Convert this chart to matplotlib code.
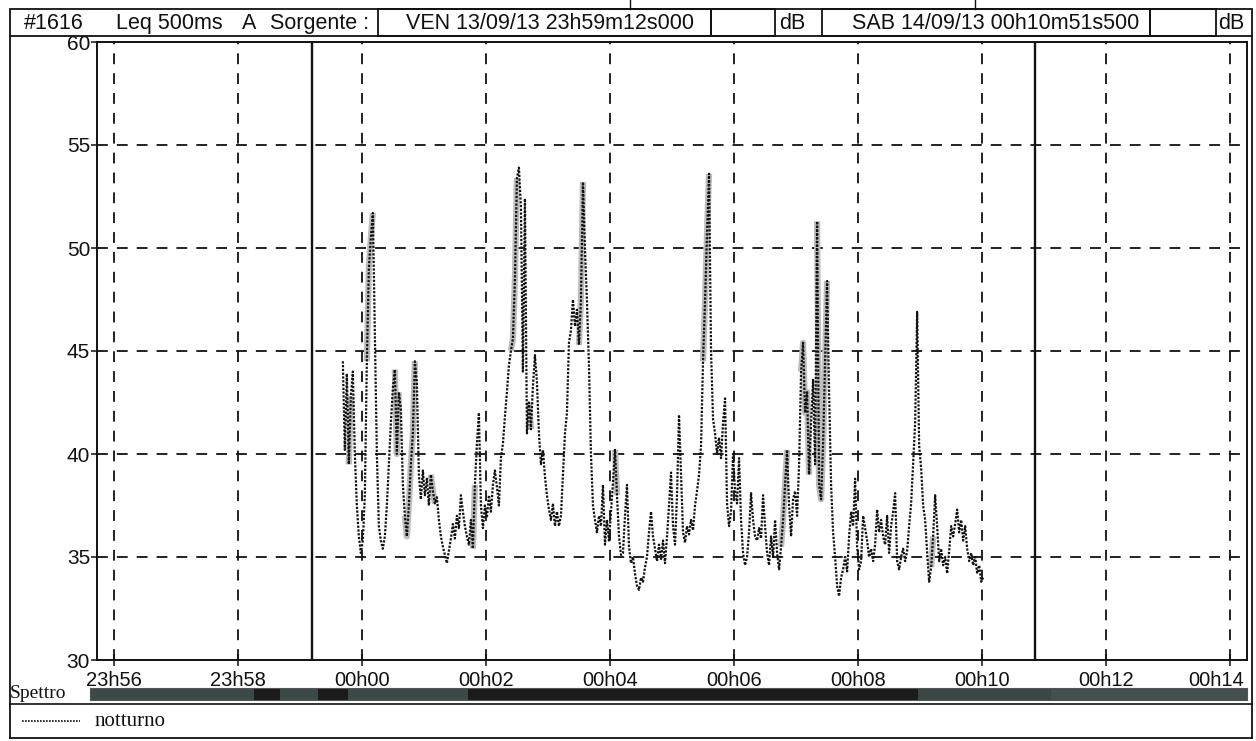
import numpy as np
import matplotlib
matplotlib.use("Agg")
import matplotlib.pyplot as plt
from matplotlib.patches import Rectangle
from matplotlib.lines import Line2D
from matplotlib.transforms import ScaledTranslation

W, H = 1256, 741

# ---------------- data ----------------
header_parts = ["#1616", "Leq 500ms", "A", "Sorgente :"]
start_label = "VEN 13/09/13 23h59m12s000"
end_label = "SAB 14/09/13 00h10m51s500"
unit = "dB"
marker_start_min = -48.0 / 60.0          # 23h59m12s
marker_end_min = 10 + 51.5 / 60.0        # 00h10m51s500
x_ticks_min = [-4, -2, 0, 2, 4, 6, 8, 10, 12, 14]
x_tick_labels = ["23h56", "23h58", "00h00", "00h02", "00h04",
                 "00h06", "00h08", "00h10", "00h12", "00h14"]
y_ticks = [30, 35, 40, 45, 50, 55, 60]
x_view_min = (-4.27, 14.27)

data_t_start_s = -18.4
data_t_end_s = 601.0
leq_db = [
    44.5, 40.2, 43.9, 39.5, 42.8, 44.0, 40.0, 37.5, 36.0, 35.2,
    35.8, 38.0, 44.5, 49.0, 50.5, 51.7, 46.0, 40.0, 36.5, 35.8,
    35.4, 36.0, 37.5, 39.5, 41.5, 43.2, 44.1, 40.0, 43.0, 42.2,
    38.5, 37.0, 36.0, 37.5, 39.5, 41.0, 44.5, 43.5, 39.0, 37.8,
    39.2, 38.0, 38.8, 37.5, 39.0, 38.2, 37.6, 37.9, 36.8, 36.0,
    35.5, 35.1, 34.7, 35.3, 35.9, 36.6, 35.9, 37.0, 36.4, 38.0,
    37.2, 36.5, 36.0, 35.6, 36.8, 35.4, 38.5, 40.5, 42.0, 37.5,
    36.4, 37.5, 36.9, 38.0, 37.2, 38.5, 39.2, 38.4, 37.5, 39.8,
    40.5, 41.8, 43.0, 44.3, 45.0, 45.6, 48.5, 53.4, 53.9, 52.0,
    44.0, 52.4, 41.0, 42.5, 41.2, 43.3, 44.8, 43.5, 41.0, 39.5,
    40.2, 38.9, 38.0, 37.3, 36.8, 37.6, 36.5, 37.2, 36.5, 37.0,
    39.0, 41.0, 42.0, 45.4, 46.0, 47.5, 46.2, 47.0, 45.3, 47.5,
    53.2, 50.0, 47.4, 44.3, 40.0, 37.5, 36.8, 36.2, 37.0, 36.5,
    38.5, 35.6, 36.8, 35.8, 37.2, 38.6, 40.2, 38.0, 36.0, 35.1,
    35.2, 37.0, 38.5, 35.5, 34.7, 35.0, 34.2, 33.6, 33.4, 34.0,
    33.8, 34.5, 35.0, 36.2, 37.2, 36.0, 35.4, 34.8, 35.6, 34.9,
    35.8, 34.7, 36.0, 37.5, 39.1, 36.5, 35.6, 38.0, 41.9, 39.0,
    36.2, 35.7, 36.5, 36.1, 36.8, 36.3, 37.5, 38.2, 39.0, 40.4,
    44.5, 47.4, 50.7, 53.6, 45.0, 41.7, 41.0, 40.0, 40.8, 39.8,
    41.5, 42.7, 37.6, 36.5, 37.2, 40.0, 38.2, 37.6, 39.8, 36.8,
    35.2, 34.6, 35.0, 36.2, 38.1, 36.8, 36.0, 35.8, 36.4, 35.9,
    38.0, 36.5, 35.2, 34.6, 36.0, 35.0, 36.8, 35.2, 34.4, 35.5,
    36.8, 38.5, 40.2, 37.5, 36.0, 37.8, 38.2, 37.0, 39.5, 44.0,
    45.4, 42.0, 43.0, 39.0, 41.5, 43.6, 39.5, 51.3, 38.5, 37.8,
    40.5, 44.5, 48.4, 43.0, 38.5, 36.2, 35.0, 33.6, 33.1, 34.0,
    34.4, 35.0, 34.3, 36.0, 37.2, 36.5, 38.8, 35.5, 34.4, 34.8,
    37.0, 36.4, 35.8, 35.0, 35.4, 34.8, 35.6, 37.3, 36.2, 36.8,
    36.0, 35.6, 37.0, 35.2, 36.5, 37.2, 38.1, 34.8, 34.4, 35.0,
    35.4, 34.8, 35.3, 36.5, 37.6, 39.5, 41.5, 46.9, 40.4, 39.3,
    37.5, 36.8, 35.2, 33.8, 34.5, 36.0, 38.0, 36.5, 34.8, 35.4,
    34.6, 35.0, 34.2, 35.3, 36.5, 36.0, 36.6, 37.3, 36.2, 36.8,
    35.8, 36.5, 35.4, 34.8, 35.2, 34.6, 35.0, 34.2, 34.6, 33.8,
    34.0,
]
# grey (highlighted) stretches of the trace, minutes
grey_spans_min = [(-0.21, -0.15), (0.08, 0.20), (0.53, 0.62), (0.69, 0.86),
                  (1.10, 1.20), (1.76, 1.83), (2.39, 2.50), (2.68, 2.73),
                  (3.48, 3.57), (4.06, 4.12), (5.06, 5.11), (5.47, 5.60),
                  (6.74, 6.88), (7.06, 7.22), (7.33, 7.52), (8.89, 8.95), (9.16, 9.24)]
# "Spettro" band: segment edges (minutes) and shades
spettro_edges_min = [-4.40, -1.74, -1.32, -0.71, -0.23, 1.71, 8.97, 11.11, 14.27]
spettro_colors = ["#3c4a47", "#1b1b1b", "#3c4a47", "#1b1b1b",
                  "#3c4a47", "#1b1b1b", "#3a4744", "#44504d"]
legend_label = "notturno"
band_label = "Spettro"

# ---------------- figure ----------------
SANS = ["Liberation Sans", "DejaVu Sans"]
SERIF = ["Liberation Serif", "DejaVu Serif"]
plt.rcParams["font.family"] = SANS
INK = "#111111"

fig = plt.figure(figsize=(W / 100, H / 100), dpi=100)
fig.patch.set_facecolor("white")


def fx(px):
    return px / W


def fy(py):
    return 1 - py / H


def box(x0, y0, x1, y1, lw=1.3):
    fig.add_artist(Rectangle((fx(x0), fy(y1)), fx(x1) - fx(x0), fy(y0) - fy(y1),
                             transform=fig.transFigure, fill=False,
                             edgecolor=INK, lw=lw))


def hline(x0, x1, y, lw=1.2, color=INK, ls="-"):
    fig.add_artist(Line2D([fx(x0), fx(x1)], [fy(y), fy(y)], transform=fig.transFigure,
                          lw=lw, color=color, ls=ls))


def vline(x, y0, y1, lw=1.2, color=INK):
    fig.add_artist(Line2D([fx(x), fx(x)], [fy(y0), fy(y1)], transform=fig.transFigure,
                          lw=lw, color=color))


# main plot
AX_L, AX_R, AX_T, AX_B = 97, 1247, 42, 660
ax = fig.add_axes([fx(AX_L), fy(AX_B), fx(AX_R) - fx(AX_L), fy(AX_T) - fy(AX_B)])
ax.set_xlim(*x_view_min)
ax.set_ylim(y_ticks[0], y_ticks[-1])

dash = (0, (6, 5))
for xt in x_ticks_min:
    ax.axvline(xt, color=INK, lw=1.3, ls=dash, zorder=1)
for yt in y_ticks[1:-1]:
    ax.axhline(yt, color=INK, lw=1.3, ls=dash, zorder=1)
for xm in (marker_start_min, marker_end_min):
    ax.axvline(xm, color=INK, lw=1.7, zorder=2)

t_min = np.linspace(data_t_start_s, data_t_end_s, len(leq_db)) / 60.0
vals = np.array(leq_db)
for a, b in grey_spans_min:
    m = (t_min >= a) & (t_min <= b)
    ax.plot(t_min[m], vals[m], color="#bdbdbd", lw=4.5, solid_capstyle="butt", zorder=3)
ax.plot(t_min, vals, color=INK, lw=1.6, ls=(0, (1, 0.7)), zorder=4)

ax.set_xticks(x_ticks_min)
ax.set_xticklabels(x_tick_labels)
ax.set_yticks(y_ticks)
ax.set_yticklabels([str(v) for v in y_ticks])
ax.tick_params(axis="x", direction="inout", length=8, width=1.1, pad=4,
               labelsize=14.5, colors=INK)
ax.tick_params(axis="y", direction="out", length=4, width=1.1, pad=1,
               labelsize=15, colors=INK)
last = ax.get_xticklabels()[-1]
last.set_horizontalalignment("right")
last.set_transform(last.get_transform() + ScaledTranslation(14 / 100, 0, fig.dpi_scale_trans))
for sp in ax.spines.values():
    sp.set_linewidth(1.4)
    sp.set_color(INK)

# header
HT, HB = 9, 36
box(10, HT, 1252, HB)
box(378, HT, 711, HB)
box(711, HT, 775, HB)
box(822, HT, 1150, HB)
box(1150, HT, 1216, HB)
ty = fy((HT + HB) / 2 + 1)
hdr = dict(fontsize=15.5, va="center", ha="left", family=SANS, color=INK)
for xpos, txt in zip([24, 116, 242, 270], header_parts):
    fig.text(fx(xpos), ty, txt, **hdr)
t1 = fig.text(fx(406), ty, start_label, **hdr)
t1.set_clip_path(Rectangle((fx(378), fy(HB)), fx(711) - fx(378), fy(HT) - fy(HB),
                           transform=fig.transFigure))
fig.text(fx(779), ty, unit, **hdr)
t2 = fig.text(fx(852), ty, end_label, **hdr)
t2.set_clip_path(Rectangle((fx(822), fy(HB)), fx(1150) - fx(822), fy(HT) - fy(HB),
                           transform=fig.transFigure))
fig.text(fx(1218), ty, unit, **hdr)
vline(630, 0, HT, lw=1.0)
vline(975, 0, HT, lw=1.0)

# outer frame
vline(10, HB, 738, lw=1.3)
vline(1252, HB, 738, lw=1.3)
hline(10, 1252, 738, lw=1.3)

# Spettro band
BAND_L, BAND_T, BAND_B = 90, 688, 700
px_per_min = (AX_R - AX_L) / (x_view_min[1] - x_view_min[0])
bax = fig.add_axes([fx(BAND_L), fy(BAND_B), fx(AX_R) - fx(BAND_L), fy(BAND_T) - fy(BAND_B)])
bax.set_xlim(x_view_min[0] - (AX_L - BAND_L) / px_per_min, x_view_min[1])
bax.set_ylim(0, 1)
for i, c in enumerate(spettro_colors):
    bax.broken_barh([(spettro_edges_min[i], spettro_edges_min[i + 1] - spettro_edges_min[i])],
                    (0, 1), facecolors=c, edgecolor="none")
bax.set_xticks([])
bax.set_yticks([])
for sp in bax.spines.values():
    sp.set_linewidth(0.8)
    sp.set_color("#555555")
fig.text(fx(10), fy(694), band_label, fontsize=14, va="center", ha="left",
         family=SERIF, color=INK)

# legend row
hline(10, 1252, 704, lw=1.2)
fig.add_artist(Line2D([fx(22), fx(80)], [fy(721), fy(721)], transform=fig.transFigure,
                      lw=1.2, color=INK, ls=(0, (1, 0.8))))
fig.text(fx(95), fy(721), legend_label, fontsize=15, va="center", ha="left",
         family=SERIF, color=INK)

fig.savefig("out.png", dpi=100, facecolor="white")
